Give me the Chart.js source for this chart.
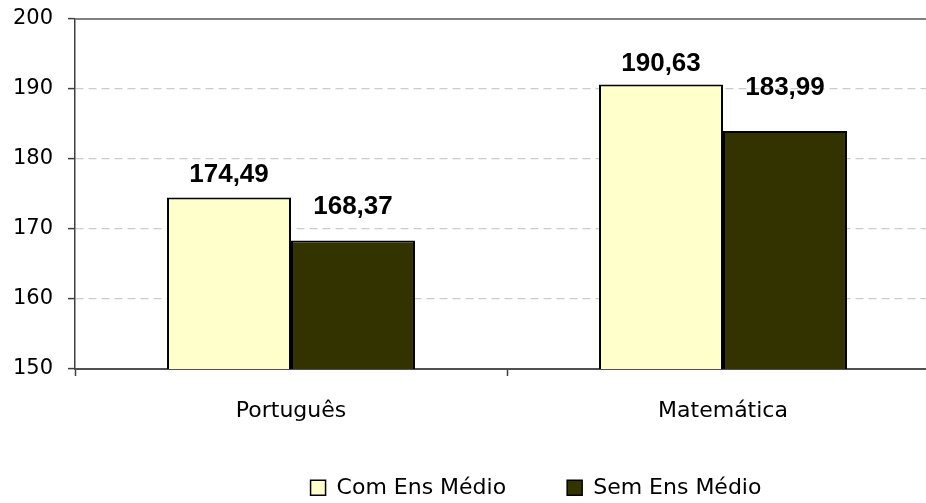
<!DOCTYPE html>
<html>
<head>
<meta charset="utf-8">
<script src="https://cdn.jsdelivr.net/npm/chart.js@4/dist/chart.umd.min.js"></script>
<style>
  html, body { margin: 0; padding: 0; background: #fff; overflow: hidden; }
  #wrap { position: relative; width: 945px; height: 503px; }
</style>
</head>
<body>
<div id="wrap"><canvas id="c"></canvas></div>
<script>
const categories = ["Português", "Matemática"];
const seriesNames = ["Com Ens Médio", "Sem Ens Médio"];
const comEnsMedio = [174.49, 190.63];
const semEnsMedio = [168.37, 183.99];
const yTicks = [150, 160, 170, 180, 190, 200];

const fmt = v => v.toFixed(2).replace('.', ',');

const valueLabels = {
  id: 'valueLabels',
  afterDatasetsDraw(chart, args, opts) {
    const ctx = chart.ctx;
    ctx.save();
    ctx.font = 'bold 26px "Liberation Sans", Arial, sans-serif';
    ctx.fillStyle = '#000';
    ctx.textAlign = 'center';
    ctx.textBaseline = 'middle';
    chart.data.datasets.forEach((ds, di) => {
      const meta = chart.getDatasetMeta(di);
      meta.data.forEach((bar, i) => {
        const off = opts.offsets[di][i];
        ctx.fillText(fmt(ds.data[i]), bar.x, bar.y - off);
      });
    });
    ctx.restore();
  }
};

const topLine = {
  id: 'topLine',
  beforeDatasetsDraw(chart) {
    const y = chart.scales.y.getPixelForValue(200);
    const ctx = chart.ctx;
    ctx.save();
    ctx.strokeStyle = '#808080';
    ctx.lineWidth = 2;
    ctx.beginPath();
    ctx.moveTo(chart.chartArea.left, y);
    ctx.lineTo(chart.chartArea.right, y);
    ctx.stroke();
    ctx.restore();
  }
};

const LEGEND_PAD = 61;
const LEGEND_FONT = 22;
const legendShift = {
  id: 'legendShift',
  beforeLayout(chart) {
    const lg = chart.legend;
    if (lg && !lg._fitPatched) {
      const orig = lg.fit.bind(lg);
      lg.fit = function () { orig(); this.height = 60; };
      lg._fitPatched = true;
    }
  },
  afterLayout(chart) {
    const lg = chart.legend;
    const dx = 536 - (lg.left + lg.right) / 2;
    lg.left += dx; lg.right += dx;
    const itemH = LEGEND_FONT * 1.2;
    const dy = 490 - (lg.top + LEGEND_PAD + itemH / 2);
    lg.top += dy;
    lg.bottom = lg.top + LEGEND_PAD + itemH + 20;
  }
};

new Chart(document.getElementById('c'), {
  type: 'bar',
  data: {
    labels: categories,
    datasets: [
      { label: seriesNames[0], data: comEnsMedio, backgroundColor: '#FFFFCC', borderColor: '#000', borderWidth: 2 },
      { label: seriesNames[1], data: semEnsMedio, backgroundColor: '#333300', borderColor: '#000', borderWidth: 2 }
    ]
  },
  options: {
    responsive: true,
    maintainAspectRatio: false,
    animation: false,
    datasets: { bar: { barPercentage: 1.0, categoryPercentage: 0.574 } },
    layout: { padding: { top: 19, right: 6, left: 0, bottom: 0 } },
    plugins: {
      valueLabels: { offsets: [[23, 21], [34, 43]] },
      legend: {
        position: 'bottom',
        labels: {
          boxWidth: 15, boxHeight: 15, padding: LEGEND_PAD,
          color: '#000',
          font: { family: '"DejaVu Sans", sans-serif', size: LEGEND_FONT },
          generateLabels(chart) {
            return chart.data.datasets.map((ds, i) => ({
              text: ds.label, fillStyle: ds.backgroundColor, strokeStyle: '#000',
              lineWidth: 1.5, datasetIndex: i, hidden: false
            }));
          }
        }
      },
      tooltip: { enabled: false }
    },
    scales: {
      x: {
        afterFit(s) { s.height = 74; },
        grid: { offset: true, drawOnChartArea: false, tickLength: 7, tickColor: '#404040', tickWidth: 1.5 },
        border: { color: '#505050', width: 2 },
        ticks: { color: '#000', padding: 22, font: { family: '"DejaVu Sans", sans-serif', size: 22 } }
      },
      y: {
        min: 150, max: 200,
        afterFit(s) { s.width = 75; s.paddingTop = 0; s.paddingBottom = 0; },
        afterBuildTicks(s) { s.ticks = yTicks.map(v => ({ value: v })); },
        grid: {
          color: c => (c.tick && c.tick.value === 200) ? 'rgba(0,0,0,0)' : '#cccccc',
          lineWidth: 1.2,
          tickLength: 7, tickColor: '#404040', tickWidth: 1.5
        },
        border: { color: '#404040', width: 1.5, dash: [8, 5] },
        ticks: { color: '#000', padding: 15, font: { family: '"DejaVu Sans", sans-serif', size: 21 } }
      }
    }
  },
  plugins: [valueLabels, topLine, legendShift]
});
</script>
</body>
</html>
